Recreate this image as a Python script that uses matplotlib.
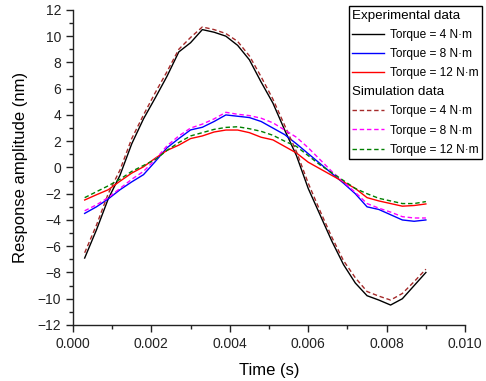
import matplotlib
matplotlib.use("Agg")
import matplotlib.pyplot as plt
from matplotlib.lines import Line2D
from matplotlib.ticker import MultipleLocator, FormatStrFormatter
import numpy as np

plt.rcParams['font.family'] = ['Liberation Sans', 'DejaVu Sans']

# time samples (s)
time_s = [0.0003 * k for k in range(1, 31)]

exp_4 = [-6.9, -4.76, -2.4, -0.6, 1.8, 3.7, 5.3, 6.95, 8.8, 9.5,
         10.5, 10.3, 10.0, 9.3, 8.2, 6.5, 4.9, 2.85, 0.9, -1.6,
         -3.6, -5.6, -7.4, -8.8, -9.77, -10.1, -10.48, -10.0, -9.0, -8.0]
exp_8 = [-3.5, -3.0, -2.4, -1.7, -1.1, -0.55, 0.45, 1.5, 2.2, 2.86,
         3.06, 3.5, 4.0, 3.9, 3.8, 3.5, 3.0, 2.5, 1.8, 1.05,
         0.3, -0.45, -1.2, -2.0, -3.0, -3.2, -3.6, -4.0, -4.1, -4.0]
exp_12 = [-2.48, -2.08, -1.7, -1.05, -0.43, 0.05, 0.7, 1.3, 1.7, 2.2,
          2.4, 2.7, 2.85, 2.85, 2.65, 2.3, 2.1, 1.6, 1.1, 0.4,
          -0.1, -0.6, -1.1, -1.6, -2.3, -2.55, -2.75, -2.95, -2.9, -2.78]
sim_4 = [-6.5, -4.4, -2.0, -0.2, 2.2, 4.0, 5.7, 7.3, 9.0, 9.9,
         10.7, 10.5, 10.2, 9.6, 8.5, 6.9, 5.2, 3.2, 1.2, -1.2,
         -3.3, -5.3, -7.1, -8.4, -9.45, -9.8, -10.1, -9.6, -8.7, -7.75]
sim_8 = [-3.3, -2.85, -2.3, -1.6, -0.9, -0.3, 0.6, 1.65, 2.4, 3.0,
         3.3, 3.7, 4.2, 4.05, 3.95, 3.75, 3.4, 2.85, 2.3, 1.5,
         0.6, -0.3, -1.1, -1.9, -2.75, -3.1, -3.4, -3.75, -3.85, -3.85]
sim_12 = [-2.3, -1.85, -1.4, -0.9, -0.3, 0.15, 0.6, 1.3, 1.9, 2.4,
          2.65, 2.9, 3.05, 3.1, 2.95, 2.75, 2.45, 2.0, 1.6, 0.9,
          0.2, -0.4, -1.0, -1.6, -2.0, -2.35, -2.55, -2.75, -2.75, -2.6]

labels_exp = ["Torque = 4 N\u00b7m", "Torque = 8 N\u00b7m", "Torque = 12 N\u00b7m"]
labels_sim = ["Torque = 4 N\u00b7m", "Torque = 8 N\u00b7m", "Torque = 12 N\u00b7m"]
group_titles = ["Experimental data", "Simulation data"]

fig = plt.figure(figsize=(4.86, 3.81), dpi=100)
ax = fig.add_axes([0.150, 0.147, 0.807, 0.827])

dash = (0, (3.2, 2.0))
h_e4, = ax.plot(time_s, exp_4, color='black', lw=1.0)
h_e8, = ax.plot(time_s, exp_8, color='#0000ff', lw=1.0)
h_e12, = ax.plot(time_s, exp_12, color='#ff0000', lw=1.0)
h_s4, = ax.plot(time_s, sim_4, color='#a52a2a', lw=1.0, ls=dash)
h_s8, = ax.plot(time_s, sim_8, color='#ff00ff', lw=1.0, ls=dash)
h_s12, = ax.plot(time_s, sim_12, color='#008000', lw=1.0, ls=dash)

ax.set_xlim(0, 0.010)
ax.set_ylim(-12, 12)
ax.xaxis.set_major_locator(MultipleLocator(0.002))
ax.xaxis.set_minor_locator(MultipleLocator(0.001))
ax.xaxis.set_major_formatter(FormatStrFormatter('%.3f'))
ax.yaxis.set_major_locator(MultipleLocator(2))
ax.yaxis.set_minor_locator(MultipleLocator(1))
ax.tick_params(which='major', direction='out', length=5, width=1, labelsize=10, colors='#222222')
ax.tick_params(which='minor', direction='out', length=3, width=1, colors='#222222')
for s in ['top', 'right']:
    ax.spines[s].set_visible(False)
for s in ['left', 'bottom']:
    ax.spines[s].set_linewidth(1.0)
    ax.spines[s].set_color('#222222')

ax.set_xlabel("Time (s)", fontsize=12, labelpad=9)
ax.set_ylabel("Response amplitude (nm)", fontsize=12, labelpad=7)

blank = Line2D([], [], color='none')
handles = [blank, h_e4, h_e8, h_e12, Line2D([], [], color='none'), h_s4, h_s8, h_s12]
labels = [group_titles[0]] + labels_exp + [group_titles[1]] + labels_sim
leg = ax.legend(handles, labels, loc='upper right', bbox_to_anchor=(482/486, 1 - 6/381),
                bbox_transform=fig.transFigure, fontsize=8.6, frameon=True, fancybox=False,
                framealpha=1, edgecolor='black', handlelength=2.7, handletextpad=0.45,
                labelspacing=0.6, borderpad=0.3, borderaxespad=0)
leg.get_frame().set_linewidth(1.0)
texts = leg.get_texts()
for i in (0, 4):
    texts[i].set_fontsize(9.6)
rows = leg._legend_handle_box.get_children()[0].get_children()
for i in (0, 4):
    hp = rows[i]
    hp.sep = 0
    hp.get_children()[0].width = 0

fig.savefig("out.png", dpi=100)
